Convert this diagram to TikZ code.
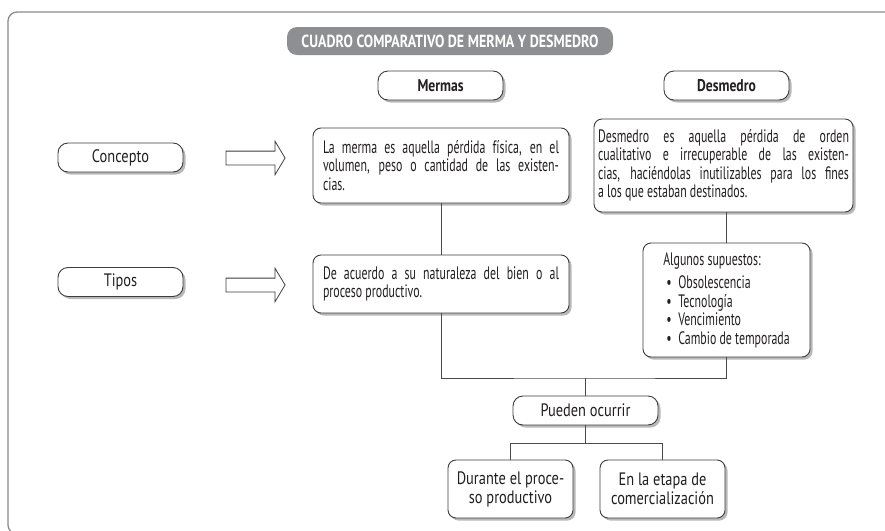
\documentclass[tikz,border=0pt]{standalone}
\usepackage{fontspec}
\setmainfont{PT Sans}[FakeStretch=0.66]
\newfontfamily\headfont{PT Sans}[FakeStretch=0.8]
\usetikzlibrary{shapes.arrows,shadows}
\definecolor{framec}{HTML}{8A8A8A}
\definecolor{titlec}{HTML}{8E8F93}
\definecolor{boxc}{HTML}{3C3C3C}
\definecolor{linec}{HTML}{4A4A4A}
\definecolor{shadc}{HTML}{9A9A9A}
\definecolor{inkc}{HTML}{231F20}
\tolerance=10000
\hyphenpenalty=10000

\begin{document}
\begin{tikzpicture}[x=1pt, y=-1pt,
    every node/.style={font=\fontsize{18}{18.5}\selectfont, text=inkc},
    box/.style={draw=boxc, line width=0.9pt, rounded corners=8pt, fill=white, inner sep=0pt,
        drop shadow={shadow xshift=2.5pt, shadow yshift=-2.5pt, fill=shadc, opacity=0.7}},
    pill/.style={box, minimum width=125pt, minimum height=29pt, rounded corners=10pt,
        font=\fontsize{18}{18.5}\selectfont\headfont},
    head/.style={pill, font=\fontsize{17}{18}\selectfont\headfont\bfseries},
    para/.style={box, align=justify},
    blockarrow/.style={single arrow, draw=boxc, line width=0.8pt, fill=white, inner sep=0pt,
        inner ysep=6.5pt, minimum height=59pt, minimum width=33pt, single arrow head extend=10pt,
        single arrow tip angle=118},
    link/.style={draw=linec, line width=0.9pt}
]
    \useasboundingbox (0,0) rectangle (885,530);
    \clip (0,0) rectangle (885,530);
    \draw [framec, line width=1.3pt, rounded corners=9pt] (8,12) rectangle (900,534);

    \node [fill=titlec, rounded corners=10pt, minimum width=326pt, minimum height=28pt, inner sep=0pt,
        text=white, font=\fontsize{17.5}{18}\selectfont\headfont\bfseries] (title) at (450,41)
        {CUADRO COMPARATIVO DE MERMA Y DESMEDRO};
    \node [head] (mer) at (440.5,85.5) {Mermas};
    \node [head] (des) at (726.5,85.5) {Desmedro};
    \node [pill] (conc) at (120.5,157.5) {Concepto};
    \node [pill] (tip) at (120.5,282) {Tipos};
    \node [blockarrow] (a1) at (253.5,158) {};
    \node [blockarrow] (a2) at (253.5,285) {};

    \node [para, text width=236pt, inner xsep=10pt, minimum height=75pt] (mdef) at (441,165.5)
        {La merma es aquella pérdida física, en el\linebreak
        volumen, peso o cantidad de las existen-\linebreak
        cias.};
    \node [para, text width=236pt, inner xsep=10pt, minimum height=58pt] (mtip) at (441,284)
        {De acuerdo a su naturaleza del bien o al\linebreak
        proceso productivo.};
    \node [para, text width=251pt, inner xsep=4pt, minimum height=93pt] (ddef) at (723.5,165.5)
        {Desmedro es aquella pérdida de orden\linebreak
        cualitativo e irrecuperable de las existen-\linebreak
        cias, haciéndolas inutilizables para los fines\linebreak
        a los que estaban destinados.};
    \node [box, align=left, minimum width=167pt, minimum height=114pt] (dsup) at (726.5,300)
        {Algunos supuestos:\\[5pt]
        \hspace*{3pt}\makebox[12pt][l]{\textbullet}Obsolescencia\\
        \hspace*{3pt}\makebox[12pt][l]{\textbullet}Tecnología\\
        \hspace*{3pt}\makebox[12pt][l]{\textbullet}Vencimiento\\
        \hspace*{3pt}\makebox[12pt][l]{\textbullet}Cambio de temporada};

    \node [pill, minimum width=145pt] (pued) at (585.5,410.5) {Pueden ocurrir};
    \node [box, align=center, minimum width=125pt, minimum height=58pt,
        font=\fontsize{18}{19}\selectfont\headfont] (dur) at (510.5,489)
        {Durante el proce-\\so productivo};
    \node [box, align=center, minimum width=125pt, minimum height=58pt,
        font=\fontsize{18}{19}\selectfont\headfont] (com) at (662.5,489)
        {En la etapa de\\comercialización};

    \coordinate (bar) at (585.5,378);
    \coordinate (split) at (585.5,443);
    \draw [link] (mdef) -- (mtip);
    \draw [link] (dsup.north) -- (dsup.north |- ddef.south);
    \draw [link] (mtip.south) |- (bar) -| (dsup.south);
    \draw [link] (bar) -- (pued);
    \draw [link] (pued) -- (split);
    \draw [link] (split) -| (dur);
    \draw [link] (split) -| (com);
\end{tikzpicture}
\end{document}
